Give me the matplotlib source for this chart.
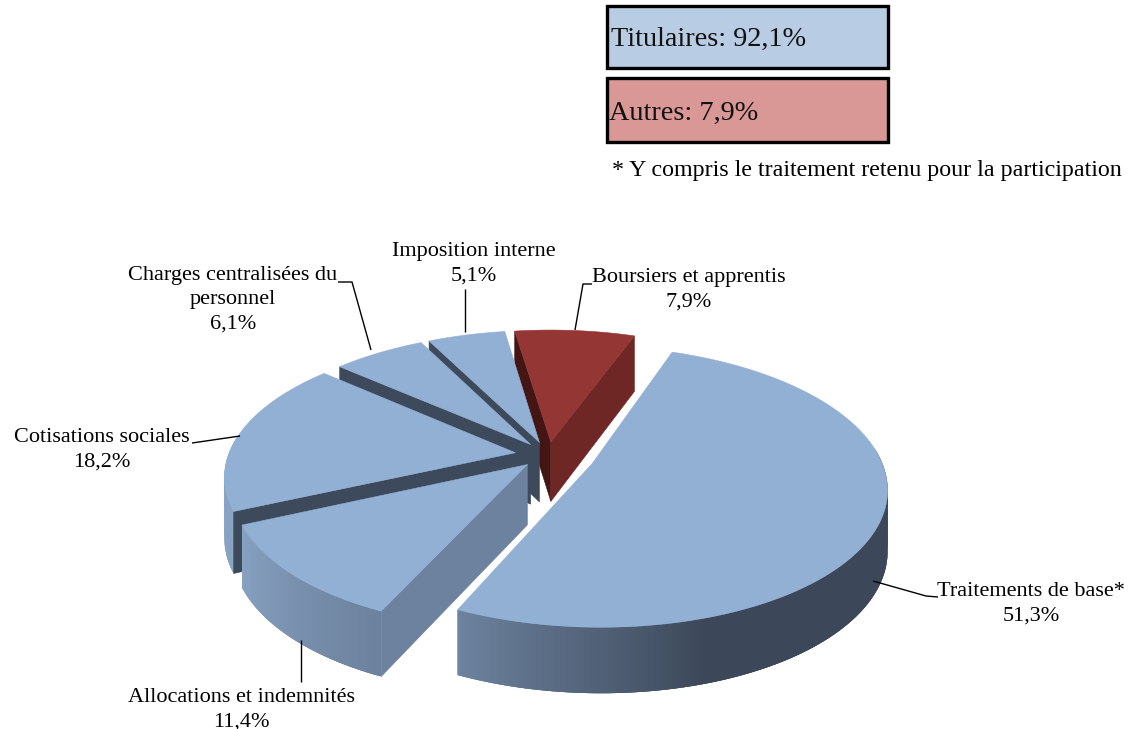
import numpy as np
import matplotlib
matplotlib.use('Agg')
import matplotlib.pyplot as plt
from matplotlib.patches import Polygon, Rectangle

plt.rcParams['font.family'] = ['Liberation Serif', 'DejaVu Serif']

# Donnees, dans le sens horaire a partir du premier secteur
categories = ['Traitements de base*', 'Allocations et indemnités', 'Cotisations sociales',
	'Charges centralisées du\npersonnel', 'Imposition interne', 'Boursiers et apprentis']
valeurs = [51.3, 11.4, 18.2, 6.1, 5.1, 7.9]
resume_labels = ['Titulaires: 92,1%', 'Autres: 7,9%']
note = '* Y compris le traitement retenu pour la participation'

# Pie "3D"
angle_depart = 70.0 # angle du premier secteur (degres, sens trigo)
explosion = [0.165, 0.10, 0.115, 0.10, 0.10, 0.10]
cx, cy = 548, 455
Rx, Ry = 287, 134
H = 60 # epaisseur
k = 0.163 # perspective

BLEU = '#92afd4'
couleurs_dessus = [BLEU, BLEU, BLEU, BLEU, BLEU, '#943634']
# face de coupe cote debut du secteur (la seule visible, sauf pour le secteur rouge)
couleurs_coupe = [None, '#6c829e', '#3d4a5c', '#3d4a5c', '#3d4a5c', '#431614']

def proj(u, v, bas=False):
	s = 1 / (1 + k * v)
	x = cx + Rx * u * s
	y = cy - Ry * v * s
	if bas:
		y = y + H * np.sqrt(s)
	return x, y

def hex2rgb(c):
	return np.array(matplotlib.colors.to_rgb(c))

def couleur_mur(a, ii):
	if ii == 0:
		stops_a = [-115, -72, 80]
		stops_c = ['#6e84a0', '#3c4859', '#3c4859']
	else:
		stops_a = [-230, -156, -115]
		stops_c = ['#8ba9cd', '#88a2c2', '#6c829e']
	return tuple(np.interp(a, stops_a, [hex2rgb(c)[jj] for c in stops_c]) for jj in range(3))

fig = plt.figure(figsize=(11.28, 7.29), dpi=100)
ax = fig.add_axes([0, 0, 1, 1])
ax.set_xlim(0, 1128)
ax.set_ylim(729, 0)
ax.axis('off')

# Bornes des secteurs
cumul = np.cumsum([0] + valeurs) / np.sum(valeurs) * 360
debuts = angle_depart - cumul[:-1]
fins = angle_depart - cumul[1:]

def face(p0, p1, p2, p3, col):
	ax.add_patch(Polygon([p0, p1, p2, p3], closed=True, facecolor=col, edgecolor=col, linewidth=0.4))

def dessine_secteur(ii):
	a0, a1 = debuts[ii], fins[ii]
	mid = np.radians((a0 + a1) / 2)
	du = explosion[ii] * np.cos(mid)
	dv = explosion[ii] * np.sin(mid)
	angles = np.linspace(a0, a1, int(abs(a0 - a1)) * 2 + 2)
	rad = np.radians(angles)
	u = du + np.cos(rad)
	v = dv + np.sin(rad)
	xh, yh = proj(u, v)
	xb, yb = proj(u, v, bas=True)
	xc, yc = proj(du, dv)
	xcb, ycb = proj(du, dv, bas=True)
	# mur exterieur (partie avant seulement), chaque bande recouvre la jointure de la precedente
	nn = len(angles)
	for jj in range(nn - 1):
		if np.sin(rad[jj]) > 0.12 or ii == 5:
			continue
		j2 = min(jj + 3, nn - 1)
		col = couleur_mur(angles[jj], ii)
		pts = list(zip(xh[jj:j2 + 1], yh[jj:j2 + 1])) + list(zip(xb[jj:j2 + 1], yb[jj:j2 + 1]))[::-1]
		ax.add_patch(Polygon(pts, closed=True, facecolor=col, edgecolor='none'))
	# faces de coupe
	if ii != 0:
		face((xc, yc), (xh[0], yh[0]), (xb[0], yb[0]), (xcb, ycb), couleurs_coupe[ii])
	if ii == 5:
		face((xc, yc), (xh[-1], yh[-1]), (xb[-1], yb[-1]), (xcb, ycb), '#6f2726')
	# dessus
	ax.add_patch(Polygon(list(zip(xh, yh)) + [(xc, yc)], closed=True, facecolor=couleurs_dessus[ii],
		edgecolor=couleurs_dessus[ii], linewidth=0.4))

for ii in [5, 4, 3, 2, 1, 0]:
	dessine_secteur(ii)

# Traits de rappel
rappels = [
	[(873, 581), (926, 596), (938, 597)],
	[(301, 640), (301, 682)],
	[(240, 436), (192, 443)],
	[(371, 350), (352, 282), (338, 282)],
	[(465, 332), (465, 289)],
	[(575, 330), (583, 284), (592, 284)],
]
for pts in rappels:
	ax.plot([p[0] for p in pts], [p[1] for p in pts], color='black', linewidth=1.0, solid_capstyle='butt')

# Etiquettes
pos_labels = [(1031, 603.5), (241, 709.5), (102, 449.5), (233, 299.5), (474, 264), (689, 290)]
for cat, val, (xt, yt) in zip(categories, valeurs, pos_labels):
	txt = cat + '\n' + f'{val:.1f}%'.replace('.', ',')
	ax.text(xt, yt, txt, ha='center', va='center', fontsize=16, linespacing=1.38, color='black')

# Encadres
boites = [(6, 68, '#b8cce4', 611, 39), (78, 142, '#d99795', 609, 113)]
for (y0, y1, col, xt, yt), lab in zip(boites, resume_labels):
	ax.add_patch(Rectangle((607, y0), 281, y1 - y0, facecolor=col, edgecolor='black', linewidth=2.4))
	ax.text(xt, yt, lab, ha='left', va='center', fontsize=20.3, color='#111111')
ax.text(612, 170, note, ha='left', va='center', fontsize=17.3, color='black')

fig.savefig('out.png', dpi=100)
